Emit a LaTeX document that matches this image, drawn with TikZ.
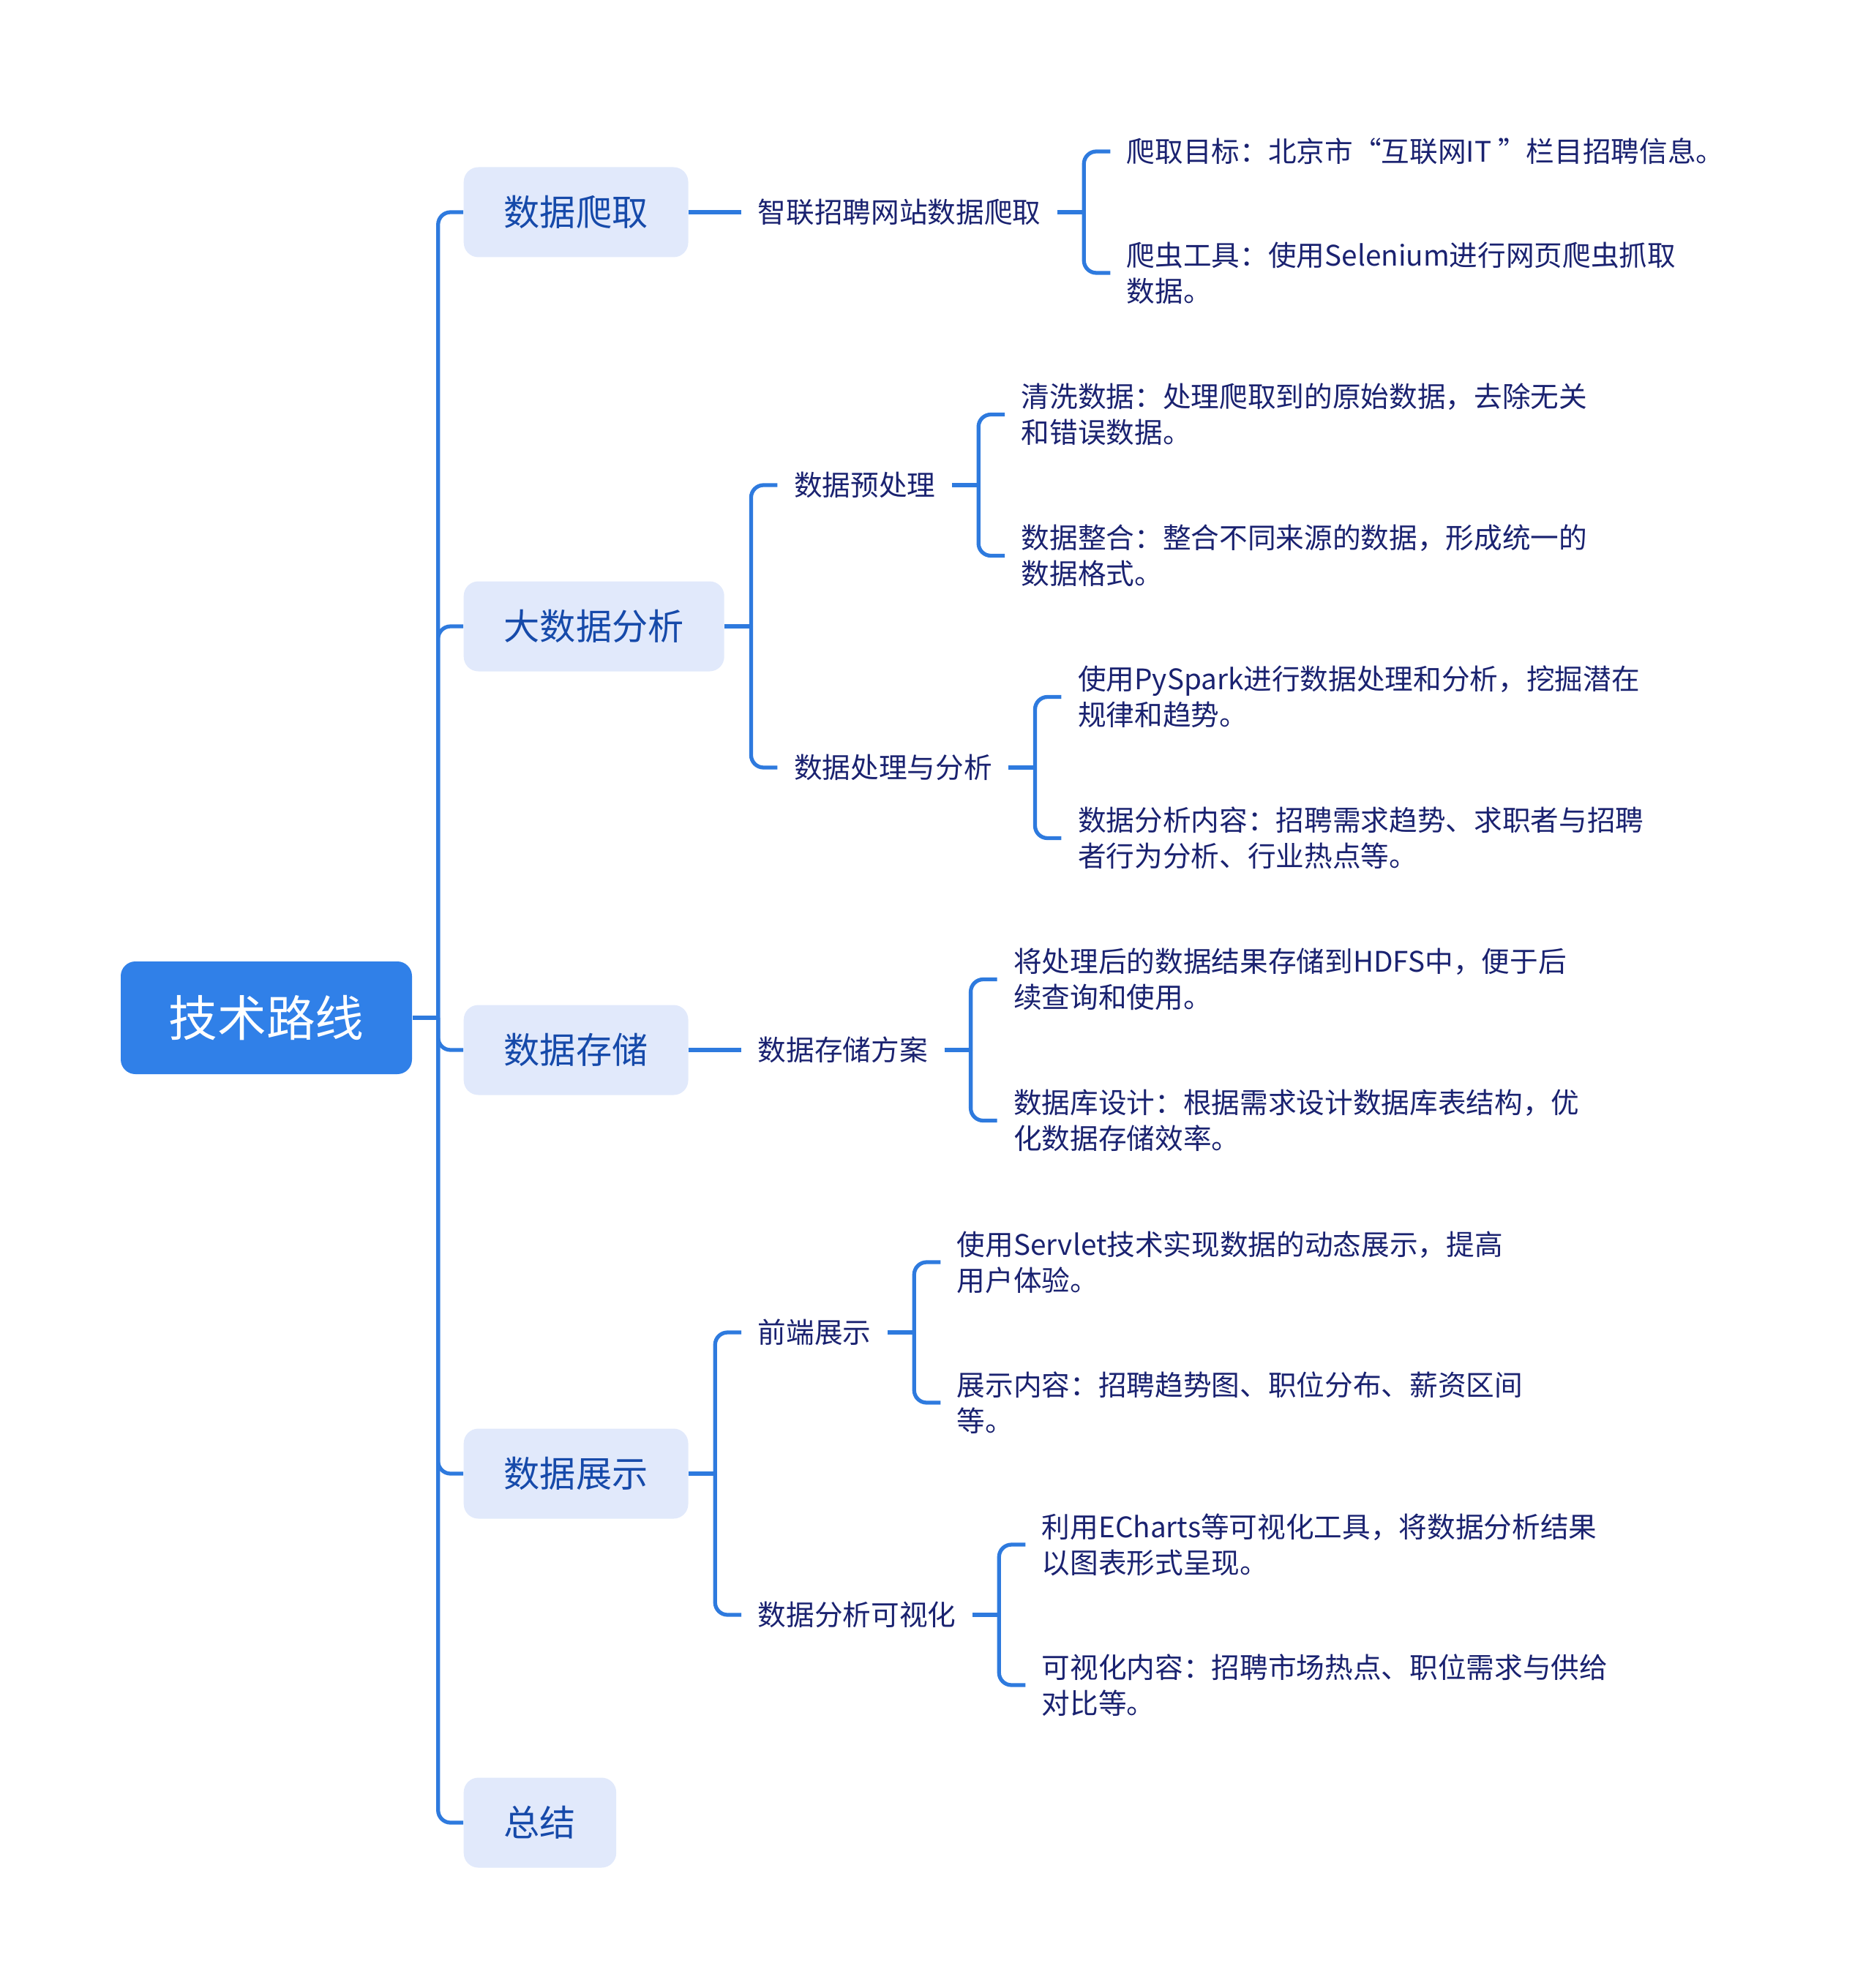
\documentclass[tikz,border=0pt]{standalone}
\usepackage{fontspec}
\setmainfont{Noto Sans CJK SC}
\usepackage{tikz}
\usetikzlibrary{calc}
\usetikzlibrary{positioning}
\definecolor{rootblue}{RGB}{48,128,232}
\definecolor{topicfill}{RGB}{225,233,251}
\definecolor{topictext}{RGB}{22,74,170}
\definecolor{leaftext}{RGB}{26,34,112}
\definecolor{linkblue}{RGB}{46,122,222}

\begin{document}
\begin{tikzpicture}[line join=round,node distance=0.72cm,
  root/.style={fill=rootblue,rounded corners=0.2cm,text=white,font=\fontsize{19}{23}\selectfont,minimum width=3.98cm,minimum height=1.54cm},
  topic/.style={fill=topicfill,rounded corners=0.2cm,text=topictext,font=\fontsize{14}{17}\selectfont,inner xsep=0.55cm,minimum height=1.23cm,anchor=west},
  sub/.style={text=leaftext,font=\fontsize{11}{14}\selectfont,inner xsep=0.22cm,align=left},
  link/.style={draw=linkblue,line width=1.5pt},
  fork/.style={link,rounded corners=0.17cm}]
\useasboundingbox (0,0) rectangle (25.6,-27.17);
% root and main topics
\node[root] (root) at (3.64,-13.91) {技术路线};
\node[topic] (crawl) at (6.33,-2.90) {数据爬取};
\node[topic] (ana) at (6.33,-8.56) {大数据分析};
\node[topic] (store) at (6.33,-14.35) {数据存储};
\node[topic] (show) at (6.33,-20.14) {数据展示};
\node[topic] (sum) at (6.33,-24.91) {总结};
\coordinate (root-j) at ($(root.east)+(0.35,0)$);
\draw[link] (root.east) -- (root-j);
\foreach \t in {crawl,ana,store,show,sum} {\draw[fork] (root-j) |- (\t.west);}
% crawling
\node[sub,right=of crawl] (zhilian) {智联招聘网站数据爬取};
\draw[link] (crawl) -- (zhilian);
\node[sub,right=of zhilian,yshift=0.83cm] (target) {爬取目标：北京市“互联网IT ”栏目招聘信息。};
\node[sub,right=of zhilian,yshift=-0.83cm] (tool) {爬虫工具：使用Selenium进行网页爬虫抓取\\数据。};
\coordinate (zhilian-j) at ($(zhilian.east)+(0.36,0)$);
\draw[link] (zhilian.east) -- (zhilian-j);
\foreach \c in {target,tool} {\draw[fork] (zhilian-j) |- (\c.west);}
% analysis
\node[sub,right=of ana,yshift=1.93cm] (prep) {数据预处理};
\node[sub,right=of ana,yshift=-1.93cm] (proc) {数据处理与分析};
\coordinate (ana-j) at ($(ana.east)+(0.36,0)$);
\draw[link] (ana.east) -- (ana-j);
\foreach \c in {prep,proc} {\draw[fork] (ana-j) |- (\c.west);}
\node[sub,right=of prep,yshift=0.965cm] (clean) {清洗数据：处理爬取到的原始数据，去除无关\\和错误数据。};
\node[sub,right=of prep,yshift=-0.965cm] (merge) {数据整合：整合不同来源的数据，形成统一的\\数据格式。};
\coordinate (prep-j) at ($(prep.east)+(0.36,0)$);
\draw[link] (prep.east) -- (prep-j);
\foreach \c in {clean,merge} {\draw[fork] (prep-j) |- (\c.west);}
\node[sub,right=of proc,yshift=0.965cm] (spark) {使用PySpark进行数据处理和分析，挖掘潜在\\规律和趋势。};
\node[sub,right=of proc,yshift=-0.965cm] (content) {数据分析内容：招聘需求趋势、求职者与招聘\\者行为分析、行业热点等。};
\coordinate (proc-j) at ($(proc.east)+(0.36,0)$);
\draw[link] (proc.east) -- (proc-j);
\foreach \c in {spark,content} {\draw[fork] (proc-j) |- (\c.west);}
% storage
\node[sub,right=of store] (plan) {数据存储方案};
\draw[link] (store) -- (plan);
\node[sub,right=of plan,yshift=0.965cm] (hdfs) {将处理后的数据结果存储到HDFS中，便于后\\续查询和使用。};
\node[sub,right=of plan,yshift=-0.965cm] (dbdesign) {数据库设计：根据需求设计数据库表结构，优\\化数据存储效率。};
\coordinate (plan-j) at ($(plan.east)+(0.36,0)$);
\draw[link] (plan.east) -- (plan-j);
\foreach \c in {hdfs,dbdesign} {\draw[fork] (plan-j) |- (\c.west);}
% display
\node[sub,right=of show,yshift=1.93cm] (front) {前端展示};
\node[sub,right=of show,yshift=-1.93cm] (vis) {数据分析可视化};
\coordinate (show-j) at ($(show.east)+(0.36,0)$);
\draw[link] (show.east) -- (show-j);
\foreach \c in {front,vis} {\draw[fork] (show-j) |- (\c.west);}
\node[sub,right=of front,yshift=0.96cm] (servlet) {使用Servlet技术实现数据的动态展示，提高\\用户体验。};
\node[sub,right=of front,yshift=-0.96cm] (showitems) {展示内容：招聘趋势图、职位分布、薪资区间\\等。};
\coordinate (front-j) at ($(front.east)+(0.36,0)$);
\draw[link] (front.east) -- (front-j);
\foreach \c in {servlet,showitems} {\draw[fork] (front-j) |- (\c.west);}
\node[sub,right=of vis,yshift=0.96cm] (echarts) {利用ECharts等可视化工具，将数据分析结果\\以图表形式呈现。};
\node[sub,right=of vis,yshift=-0.96cm] (visitems) {可视化内容：招聘市场热点、职位需求与供给\\对比等。};
\coordinate (vis-j) at ($(vis.east)+(0.36,0)$);
\draw[link] (vis.east) -- (vis-j);
\foreach \c in {echarts,visitems} {\draw[fork] (vis-j) |- (\c.west);}
\end{tikzpicture}
\end{document}
